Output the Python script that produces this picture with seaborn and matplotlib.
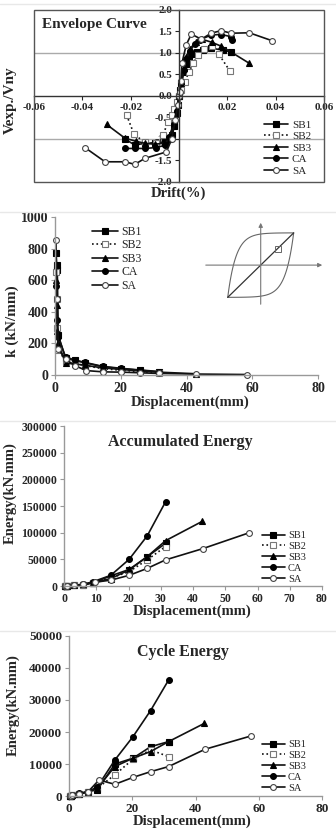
import numpy as np
import seaborn as sns
import matplotlib.pyplot as plt
from matplotlib.patches import Rectangle
from matplotlib.lines import Line2D
from matplotlib.ticker import FuncFormatter, MultipleLocator

sns.set_style("white")
plt.rcParams['font.family'] = ['Liberation Serif', 'DejaVu Serif']

W, H = 336, 830
names = ["SB1", "SB2", "SB3", "CA", "SA"]

# envelope curve: drift vs Vexp./Vny
env_x = {
    "SB1": [-0.0224, -0.0183, -0.0141, -0.0100, -0.0060, -0.0040, -0.0030, -0.0020, -0.0010, -0.0005, 0.0,
            0.0005, 0.0010, 0.0020, 0.0030, 0.0040, 0.0055, 0.0075, 0.0099, 0.0133, 0.0181, 0.0216],
    "SB2": [-0.0217, -0.0186, -0.0141, -0.0095, -0.0066, -0.0045, -0.0030, -0.0020, -0.0010, 0.0,
            0.0010, 0.0023, 0.0041, 0.0058, 0.0080, 0.0105, 0.0137, 0.0165, 0.0212],
    "SB3": [-0.0300, -0.0224, -0.0180, -0.0141, -0.0100, -0.0060, -0.0040, -0.0020, -0.0010, 0.0,
            0.0010, 0.0020, 0.0030, 0.0045, 0.0070, 0.0095, 0.0135, 0.0174, 0.0216, 0.0291],
    "CA": [-0.0224, -0.0183, -0.0141, -0.0097, -0.0060, -0.0040, -0.0020, -0.0010, 0.0,
           0.0010, 0.0020, 0.0030, 0.0045, 0.0065, 0.0085, 0.0133, 0.0174, 0.0216, 0.0220],
    "SA": [-0.0389, -0.0306, -0.0224, -0.0183, -0.0141, -0.0052, -0.0030, -0.0015, -0.0005, 0.0,
           0.0003, 0.0008, 0.0012, 0.0030, 0.0051, 0.0092, 0.0133, 0.0174, 0.0216, 0.0291, 0.0383],
}
env_y = {
    "SB1": [-1.00, -1.14, -1.10, -1.10, -1.08, -1.00, -0.90, -0.70, -0.40, -0.20, 0.0,
            0.15, 0.30, 0.55, 0.75, 0.88, 0.97, 1.03, 1.07, 1.11, 1.07, 1.02],
    "SB2": [-0.44, -0.89, -1.08, -1.10, -0.90, -0.60, -0.45, -0.30, -0.15, 0.0,
            0.15, 0.33, 0.55, 0.76, 0.95, 1.10, 1.16, 0.97, 0.57],
    "SB3": [-0.66, -0.98, -1.05, -1.10, -1.12, -1.10, -0.95, -0.60, -0.30, 0.0,
            0.35, 0.65, 0.90, 1.10, 1.25, 1.32, 1.25, 1.16, 1.02, 0.76],
    "CA": [-1.22, -1.22, -1.22, -1.20, -1.15, -0.95, -0.65, -0.35, 0.0,
           0.30, 0.60, 0.85, 1.05, 1.20, 1.30, 1.42, 1.43, 1.38, 1.30],
    "SA": [-1.20, -1.53, -1.53, -1.59, -1.45, -1.30, -1.00, -0.55, -0.20, 0.0,
           0.10, 0.35, 0.76, 1.19, 1.44, 1.32, 1.46, 1.52, 1.46, 1.47, 1.29],
}

# displacement steps (mm)
disp = [0.3, 0.6, 1.0, 3.2, 6.0, 9.0, 14.5, 20.2, 25.8, 31.5]
disp_sb3 = disp + [42.8]
disp_sa = [0.3, 0.6, 1.0, 3.2, 6.0, 9.5, 14.5, 20.2, 25.8, 31.5, 43.0, 57.5]

# secant stiffness k (kN/mm)
k_x = {"SB1": [0.3, 0.5, 0.7, 1.0, 3.2, 6.0, 9.0, 14.5, 20.2, 25.8, 31.5],
       "SB2": [0.3, 0.5, 0.7, 1.0, 3.2, 6.0, 9.0, 14.5, 20.2, 25.8, 31.5],
       "SB3": [0.3, 0.5, 0.7, 1.0, 3.2, 6.0, 9.0, 14.5, 20.2, 25.8, 31.5, 42.8],
       "CA": [0.3, 0.5, 0.7, 1.0, 3.2, 6.0, 9.0, 14.5, 20.2, 25.8, 31.5],
       "SA": [0.3, 0.6, 1.0, 3.2, 6.0, 9.5, 14.5, 20.2, 25.8, 31.5, 43.0, 58.5]}
k_y = {"SB1": [773, 695, 663, 253, 105, 92, 78, 52, 40, 30, 20],
       "SB2": [650, 480, 300, 158, 90, 75, 60, 40, 30, 22, 14],
       "SB3": [600, 440, 280, 200, 75, 70, 62, 45, 35, 25, 18, 8],
       "CA": [562, 484, 350, 242, 115, 95, 80, 55, 42, 32, 22],
       "SA": [857, 480, 165, 100, 60, 28, 20, 18, 14, 10, 6, 3]}

# accumulated energy (kN.mm)
acc_y = {"SB1": [0, 100, 300, 1200, 2800, 5500, 14000, 30000, 55000, 80000],
         "SB2": [0, 100, 300, 1200, 2800, 5500, 15000, 27000, 49000, 74000],
         "SB3": [0, 100, 300, 1300, 3000, 6000, 19000, 31000, 55000, 85000, 121000],
         "CA": [0, 100, 300, 1500, 3200, 8000, 20000, 50000, 94000, 158000],
         "SA": [0, 100, 300, 1300, 3000, 7000, 11000, 20000, 33000, 49000, 70000, 100000]}

# cycle energy (kN.mm)
cyc_y = {"SB1": [0, 100, 200, 700, 1300, 2000, 10000, 11800, 15400, 17000],
         "SB2": [0, 100, 200, 700, 1300, 2500, 6600, 11500, 14400, 12300],
         "SB3": [0, 100, 200, 700, 1300, 2500, 9200, 11800, 13900, 17000, 22700],
         "CA": [0, 100, 300, 830, 1350, 2900, 11250, 18500, 26700, 36250],
         "SA": [0, 100, 200, 700, 1300, 5000, 3650, 5800, 7600, 9200, 14600, 18750]}

energy_x = {"SB1": disp, "SB2": disp, "SB3": disp_sb3, "CA": disp, "SA": disp_sa}

styles = {
    "SB1": dict(marker="s", linestyle="-", markerfacecolor="black", markeredgecolor="black"),
    "SB2": dict(marker="s", linestyle=":", markerfacecolor="white", markeredgecolor="#777777"),
    "SB3": dict(marker="^", linestyle="-", markerfacecolor="black", markeredgecolor="black"),
    "CA": dict(marker="o", linestyle="-", markerfacecolor="black", markeredgecolor="black"),
    "SA": dict(marker="o", linestyle="-", markerfacecolor="white", markeredgecolor="#444444"),
}


def px_axes(fig, left, top, right, bottom):
    return fig.add_axes([left / W, 1 - bottom / H, (right - left) / W, (bottom - top) / H])


def draw(ax, xs, ys, ms=4):
    for n in names:
        sns.lineplot(x=xs[n], y=ys[n], ax=ax, estimator=None, sort=False, color="#111111",
                     linewidth=1.2, markersize=ms, markeredgewidth=0.8, label=n,
                     clip_on=False, **styles[n])


def legend(ax, left, top, size, spacing=0.1):
    ax.legend(loc="upper left", bbox_to_anchor=(left / W, 1 - top / H), bbox_transform=fig.transFigure,
              frameon=False, prop={"family": "Liberation Serif", "size": size},
              handlelength=2.2, handletextpad=0.3, labelspacing=spacing, borderpad=0, borderaxespad=0)


def ftext(x, y, s, size, rot=0):
    fig.text(x / W, 1 - y / H, s, fontsize=size, fontweight="bold", rotation=rot,
             ha="center", va="center")


def style_lr(ax, tsize):
    sns.despine(ax=ax)
    for sp in ["left", "bottom"]:
        ax.spines[sp].set_color("#999999")
        ax.spines[sp].set_linewidth(1.0)
    ax.tick_params(axis="both", which="major", length=3, width=0.8, color="#999999",
                   labelsize=tsize, pad=2, direction="out", left=True, bottom=True)
    for lab in ax.get_xticklabels() + ax.get_yticklabels():
        lab.set_fontweight("bold")


fig = plt.figure(figsize=(W / 100, H / 100), dpi=100)

# faint panel separators
for yy in [4, 212, 421, 631]:
    fig.add_artist(Line2D([0, 1], [1 - yy / H, 1 - yy / H], color="#e8e8e8", linewidth=1))

# ---- panel 1: envelope curve
ax1 = px_axes(fig, 34, 10, 324, 182)
ax1.axhline(1.0, color="#aaaaaa", linewidth=1.0, zorder=0)
ax1.axhline(-1.0, color="#aaaaaa", linewidth=1.0, zorder=0)
draw(ax1, env_x, env_y, ms=4.2)
ax1.set_xlim(-0.06, 0.06)
ax1.set_ylim(-2.0, 2.0)
ax1.xaxis.set_major_locator(MultipleLocator(0.02))
ax1.yaxis.set_major_locator(MultipleLocator(0.5))
ax1.xaxis.set_major_formatter(FuncFormatter(lambda v, p: "" if abs(v) < 1e-9 else f"{v:.2f}"))
ax1.yaxis.set_major_formatter(FuncFormatter(lambda v, p: f"{v:.1f}"))
ax1.spines["left"].set_position("zero")
ax1.spines["bottom"].set_position("zero")
ax1.spines["top"].set_visible(False)
ax1.spines["right"].set_visible(False)
for sp in ["left", "bottom"]:
    ax1.spines[sp].set_color("#333333")
    ax1.spines[sp].set_linewidth(1.0)
ax1.add_patch(Rectangle((0, 0), 1, 1, transform=ax1.transAxes, fill=False,
                        edgecolor="#555555", linewidth=1.0, clip_on=False, zorder=5))
ax1.tick_params(axis="both", length=3, width=0.8, labelsize=8, pad=2, direction="out",
                left=True, bottom=True)
for lab in ax1.get_xticklabels() + ax1.get_yticklabels():
    lab.set_fontweight("bold")
ax1.set_xlabel("")
ax1.set_ylabel("")
ax1.text(0.027, 0.915, "Envelope Curve", transform=ax1.transAxes, fontsize=11,
         fontweight="bold", ha="left", va="center")
legend(ax1, 264, 120, 8, 0.15)
ftext(10, 100, "Vexp./Vny", 11, 90)
ftext(178, 193, "Drift(%)", 10.5)

# ---- panel 2: stiffness
ax2 = px_axes(fig, 55, 217, 318, 375)
draw(ax2, k_x, k_y, ms=4.2)
ax2.set_xlim(0, 80)
ax2.set_ylim(0, 1000)
ax2.set_xticks([0, 20, 40, 60, 80])
ax2.set_yticks(range(0, 1001, 200))
style_lr(ax2, 10)
legend(ax2, 92, 226, 8.5, 0.12)
ftext(12, 321, "k (kN/mm)", 11, 90)
ftext(190, 402, "Displacement(mm)", 10.5)

# inset sketch of a hysteresis loop
ins = px_axes(fig, 203, 220, 325, 307)
ins.set_axis_off()
ins.set_xlim(-1.75, 1.95)
ins.set_ylim(-1.3, 1.4)
t = np.linspace(-1, 1, 80)
up = -1 + 2 * (1 - np.exp(-4 * (t + 1))) / (1 - np.exp(-8))
ins.plot(t, up, color="#666666", linewidth=0.8)
ins.plot(-t, -up, color="#666666", linewidth=0.8)
ins.plot([-1, 1], [-1, 1], color="#333333", linewidth=0.9)
ins.plot([0.52], [0.5], marker="s", markersize=5, markerfacecolor="none",
         markeredgecolor="#666666", markeredgewidth=0.7)
ins.annotate("", xy=(1.95, 0), xytext=(-1.75, 0),
             arrowprops=dict(arrowstyle="-|>", color="#777777", lw=0.8, mutation_scale=6))
ins.annotate("", xy=(0, 1.4), xytext=(0, -1.3),
             arrowprops=dict(arrowstyle="-|>", color="#777777", lw=0.8, mutation_scale=6))

# ---- panel 3: accumulated energy
ax3 = px_axes(fig, 64, 426, 322, 586)
draw(ax3, energy_x, acc_y, ms=4.2)
ax3.set_xlim(0, 80)
ax3.set_ylim(0, 300000)
ax3.set_xticks(range(0, 81, 10))
ax3.set_yticks(range(0, 300001, 50000))
style_lr(ax3, 8.5)
ax3.text(0.45, 0.9, "Accumulated Energy", transform=ax3.transAxes, fontsize=11.5,
         fontweight="bold", ha="center", va="center")
legend(ax3, 262, 531, 7.5, 0.15)
ftext(10, 493, "Energy(kN.mm)", 10.5, 90)
ftext(192, 611, "Displacement(mm)", 10.5)

# ---- panel 4: cycle energy
ax4 = px_axes(fig, 69, 636, 322, 796)
draw(ax4, energy_x, cyc_y, ms=4.2)
ax4.set_xlim(0, 80)
ax4.set_ylim(0, 50000)
ax4.set_xticks([0, 20, 40, 60, 80])
ax4.set_yticks(range(0, 50001, 10000))
style_lr(ax4, 9.5)
ax4.text(0.45, 0.9, "Cycle Energy", transform=ax4.transAxes, fontsize=11.5,
         fontweight="bold", ha="center", va="center")
legend(ax4, 262, 740, 7.5, 0.15)
ftext(13, 705, "Energy(kN.mm)", 10.5, 90)
ftext(192, 821, "Displacement(mm)", 10.5)

for a in [ax2, ax3, ax4]:
    a.set_xlabel("")
    a.set_ylabel("")

fig.savefig("out.png", dpi=100)
